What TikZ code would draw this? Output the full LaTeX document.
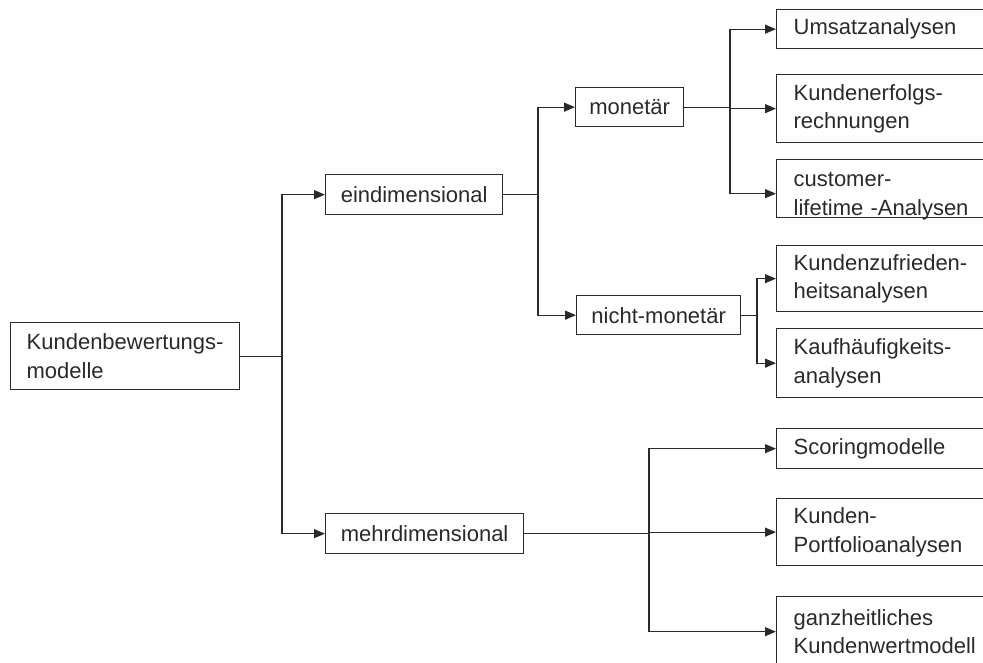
\documentclass[tikz,border=0pt]{standalone}
\usepackage{fontspec}
\setmainfont{Liberation Sans}
\usetikzlibrary{arrows.meta}
\definecolor{ink}{HTML}{2A2A2A}
\begin{document}
\hyphenpenalty=10000
\exhyphenpenalty=10000
\begin{tikzpicture}[x=1pt,y=-1pt,
  every node/.style={font=\fontsize{22}{28.5}\selectfont, text=ink},
  box/.style={draw=ink, line width=1.3pt, anchor=north west, inner ysep=0pt, rectangle},
  leftbox/.style={box, align=left, inner xsep=16pt},
  leafbox/.style={box, align=left, inner xsep=17pt, text width=175pt, minimum height=#1},
  midbox/.style={box, align=center, inner xsep=0pt},
  link/.style={draw=ink, line width=1.3pt},
  arr/.style={link, -{Triangle[length=11pt,width=9pt]}}]
\useasboundingbox (0,0) rectangle (983,662);
\clip (0,0) rectangle (983,662);
\fill[white] (0,0) rectangle (983,662);

% levels 0 to 2
\node[leftbox, text width=197pt, minimum height=67pt] (root) at (10,322) {Kundenbewertungs-\\modelle};
\node[midbox, minimum width=177pt, minimum height=40pt] (eind) at (325,174) {eindimensional};
\node[midbox, minimum width=198pt, minimum height=40pt] (mehr) at (325,513) {mehrdimensional};
\node[midbox, minimum width=108pt, minimum height=39pt] (mon) at (575,87) {monetär};
\node[midbox, minimum width=164pt, minimum height=39pt] (nicht) at (576,295) {nicht-monetär};

% leaves
\node[leafbox=39pt] (umsatz) at (776,9) {Umsatzanalysen};
\node[leafbox=68pt] (erfolg) at (776,74) {Kundenerfolgs-\\rechnungen};
\node[leafbox=58pt, text height=27pt, text depth=31pt] (cust) at (776,159) {customer-\\lifetime -Analysen};
\node[leafbox=66pt] (zufr) at (776,245) {Kundenzufrieden-\\heitsanalysen};
\node[leafbox=69pt] (kauf) at (776,328) {Kaufhäufigkeits-\\analysen};
\node[leafbox=40pt] (scor) at (776,428) {Scoringmodelle};
\node[leafbox=67pt] (port) at (776,498) {Kunden-\\Portfolioanalysen};
\node[leafbox=70pt] (ganz) at (776,596) {ganzheitliches\\Kundenwertmodell};

% branching columns
\coordinate (j1) at (282,0);
\coordinate (j2) at (538,0);
\coordinate (j3) at (730,0);
\coordinate (j4) at (757,0);
\coordinate (j5) at (649,0);

\draw[link] (root.east) -- (root.east -| j1);
\draw[arr] (root.east -| j1) |- (eind.west);
\draw[arr] (root.east -| j1) |- (mehr.west);

\draw[link] (eind.east) -- (eind.east -| j2);
\draw[arr] (eind.east -| j2) |- (mon.west);
\draw[arr] (eind.east -| j2) |- (nicht.west);

\draw[link] (mon.east) -- (mon.east -| j3);
\draw[arr] (mon.east -| j3) |- (umsatz.west);
\draw[arr] (mon.east -| j3) |- (erfolg.west);
\draw[arr] (mon.east -| j3) |- ([yshift=-5pt]cust.west);

\draw[link] (nicht.east) -- (nicht.east -| j4);
\draw[arr] (nicht.east -| j4) |- (zufr.west);
\draw[arr] (nicht.east -| j4) |- (kauf.west);

\draw[link] (mehr.east) -- (mehr.east -| j5);
\draw[arr] (mehr.east -| j5) |- (scor.west);
\draw[arr] (mehr.east -| j5) |- (port.west);
\draw[arr] (mehr.east -| j5) |- (ganz.west);
\end{tikzpicture}
\end{document}
